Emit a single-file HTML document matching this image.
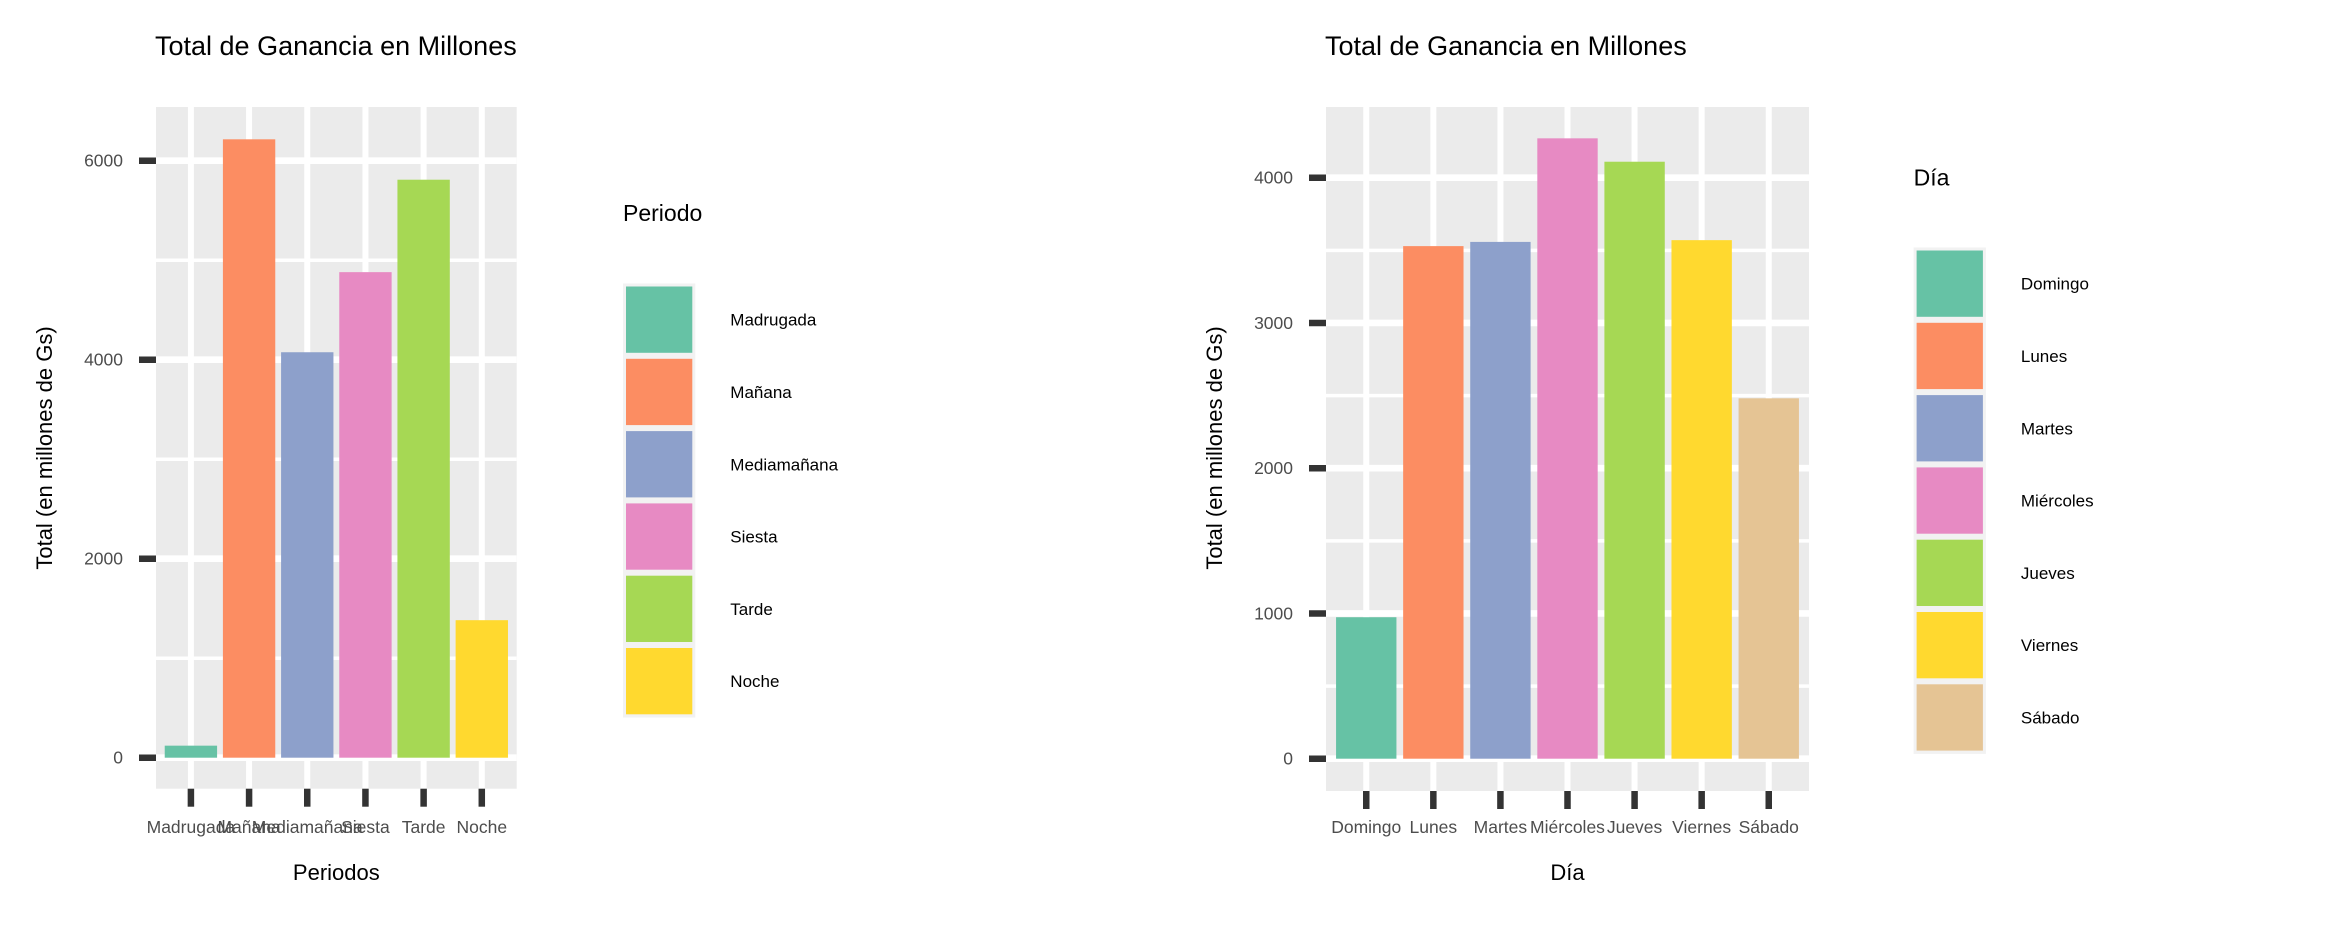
<!DOCTYPE html>
<html><head><meta charset="utf-8"><style>
html,body{margin:0;padding:0;background:#fff;}
svg{display:block;font-family:"Liberation Sans",sans-serif;}
</style></head><body>
<svg id="root" width="2340" height="930" viewBox="0 0 2340 930" xmlns="http://www.w3.org/2000/svg"></svg>
<script>
const periodCategories = ["Madrugada","Mañana","Mediamañana","Siesta","Tarde","Noche"];
const periodValues = [121, 6215, 4075, 4880, 5809, 1382];
const periodTicks = [0, 2000, 4000, 6000];
const periodTickLabels = ["0","2000","4000","6000"];
const periodMinor = [1000, 3000, 5000];

const dayCategories = ["Domingo","Lunes","Martes","Miércoles","Jueves","Viernes","Sábado"];
const dayValues = [974, 3529, 3558, 4271, 4110, 3570, 2481];
const dayTicks = [0, 1000, 2000, 3000, 4000];
const dayTickLabels = ["0","1000","2000","3000","4000"];
const dayMinor = [500, 1500, 2500, 3500];

const palette = ["#66c2a5","#fc8d62","#8da0cb","#e78ac3","#a6d854","#ffd92f","#e5c494"];
const NS = "http://www.w3.org/2000/svg";
const root = document.getElementById('root');

function mk(tag, attrs, parent, text){
  const e = document.createElementNS(NS, tag);
  for (const k in attrs) e.setAttribute(k, attrs[k]);
  if (text !== undefined) e.textContent = text;
  (parent || root).appendChild(e);
  return e;
}

function drawChart(o){
  const g = mk('g', {});
  
  
  const L=o.left, R=o.right, T=o.top, B=o.bottom;
  const n = o.cats.length;
  const step = (R-L)/(n-1+1.2);
  const xPos = i => L + step*(0.6+i);
  const yPos = v => o.zero - v*o.scale;

  const t = mk('text', {x:L-1, y:55, 'font-size':27, fill:'#000'}, g, "Total de Ganancia en Millones");
  
  

  const p = mk('rect', {x:L, y:T, width:R-L, height:B-T, fill:'#ebebeb'}, g);
  
  

  o.minor.forEach(v => {
    const y = yPos(v);
    if (y < T || y > B) return;
    const l = mk('line', {x1:L, x2:R, y1:y, y2:y, stroke:'#fff', 'stroke-width':3.5}, g);
    
    
  });
  o.ticks.forEach(v => {
    const y = yPos(v);
    const l = mk('line', {x1:L, x2:R, y1:y, y2:y, stroke:'#fff', 'stroke-width':6.7}, g);
    
    
  });
  o.cats.forEach((c,i) => {
    const x = xPos(i);
    const l = mk('line', {x1:x, x2:x, y1:T, y2:B, stroke:'#fff', 'stroke-width':6}, g);
    
    
  });
  o.vals.forEach((v,i) => {
    const w = step*0.9;
    const y0 = yPos(0), y1 = yPos(v);
    const b = mk('rect', {x:xPos(i)-w/2, y:Math.min(y0,y1), width:w, height:Math.abs(y0-y1), fill:palette[i]}, g);
    
    
  });
  o.ticks.forEach((v,i) => {
    const y = yPos(v);
    const tk = mk('line', {x1:L-17, x2:L, y1:y, y2:y, stroke:'#333', 'stroke-width':6.5}, g);
    
    
    const lb = mk('text', {x:L-33, y:y+6, 'font-size':17.5, fill:'#4d4d4d', 'text-anchor':'end'}, g, o.tickLabels[i]);
    
    
  });
  o.cats.forEach((c,i) => {
    const x = xPos(i);
    const tk = mk('line', {x1:x, x2:x, y1:B, y2:B+18, stroke:'#333', 'stroke-width':6.5}, g);
    
    
    const lb = mk('text', {x:x, y:833, 'font-size':17.5, fill:'#4d4d4d', 'text-anchor':'middle'}, g, c);
    
    
  });
  const xt = mk('text', {x:(L+R)/2, y:880, 'font-size':22, fill:'#000', 'text-anchor':'middle'}, g, o.xTitle);
  
  
  const yc = 448, yx = L-111+7;
  const yt = mk('text', {x:yx, y:yc, 'font-size':22, fill:'#000', 'text-anchor':'middle', transform:'rotate(-90 '+yx+' '+yc+')'}, g, "Total (en millones de Gs)");
  
  

  const lg = mk('g', {}, g);
  
  
  const lt = mk('text', {x:o.legX, y:o.legTitleY+7, 'font-size':23, fill:'#000'}, lg, o.legTitle);
  
  
  const pitch = 72.3, ks = 66.3;
  const fr = mk('rect', {x:o.legX, y:o.legTop-3, width:ks+6, height:pitch*n+0.3, fill:'#f2f2f2'}, lg);
  
  
  o.cats.forEach((c,i) => {
    const ky = o.legTop + pitch*i;
    const k = mk('rect', {x:o.legX+3, y:ky, width:ks, height:ks, fill:palette[i]}, lg);
    
    
    const kl = mk('text', {x:o.legX+3+ks+38, y:ky+ks/2+6, 'font-size':17, fill:'#000'}, lg, c);
    
    
  });
}

drawChart({prefix:'period', cats:periodCategories, vals:periodValues, ticks:periodTicks, tickLabels:periodTickLabels, minor:periodMinor,
  left:156, right:516.7, top:107, bottom:788.7, zero:757.7, scale:597/6000, xTitle:"Periodos",
  legX:623, legTop:286.5, legTitle:"Periodo", legTitleY:214});
drawChart({prefix:'day', cats:dayCategories, vals:dayValues, ticks:dayTicks, tickLabels:dayTickLabels, minor:dayMinor,
  left:1326, right:1809, top:107, bottom:791, zero:758.7, scale:581/4000, xTitle:"Día",
  legX:1913.6, legTop:250.5, legTitle:"Día", legTitleY:178.7});
</script>
</body></html>
